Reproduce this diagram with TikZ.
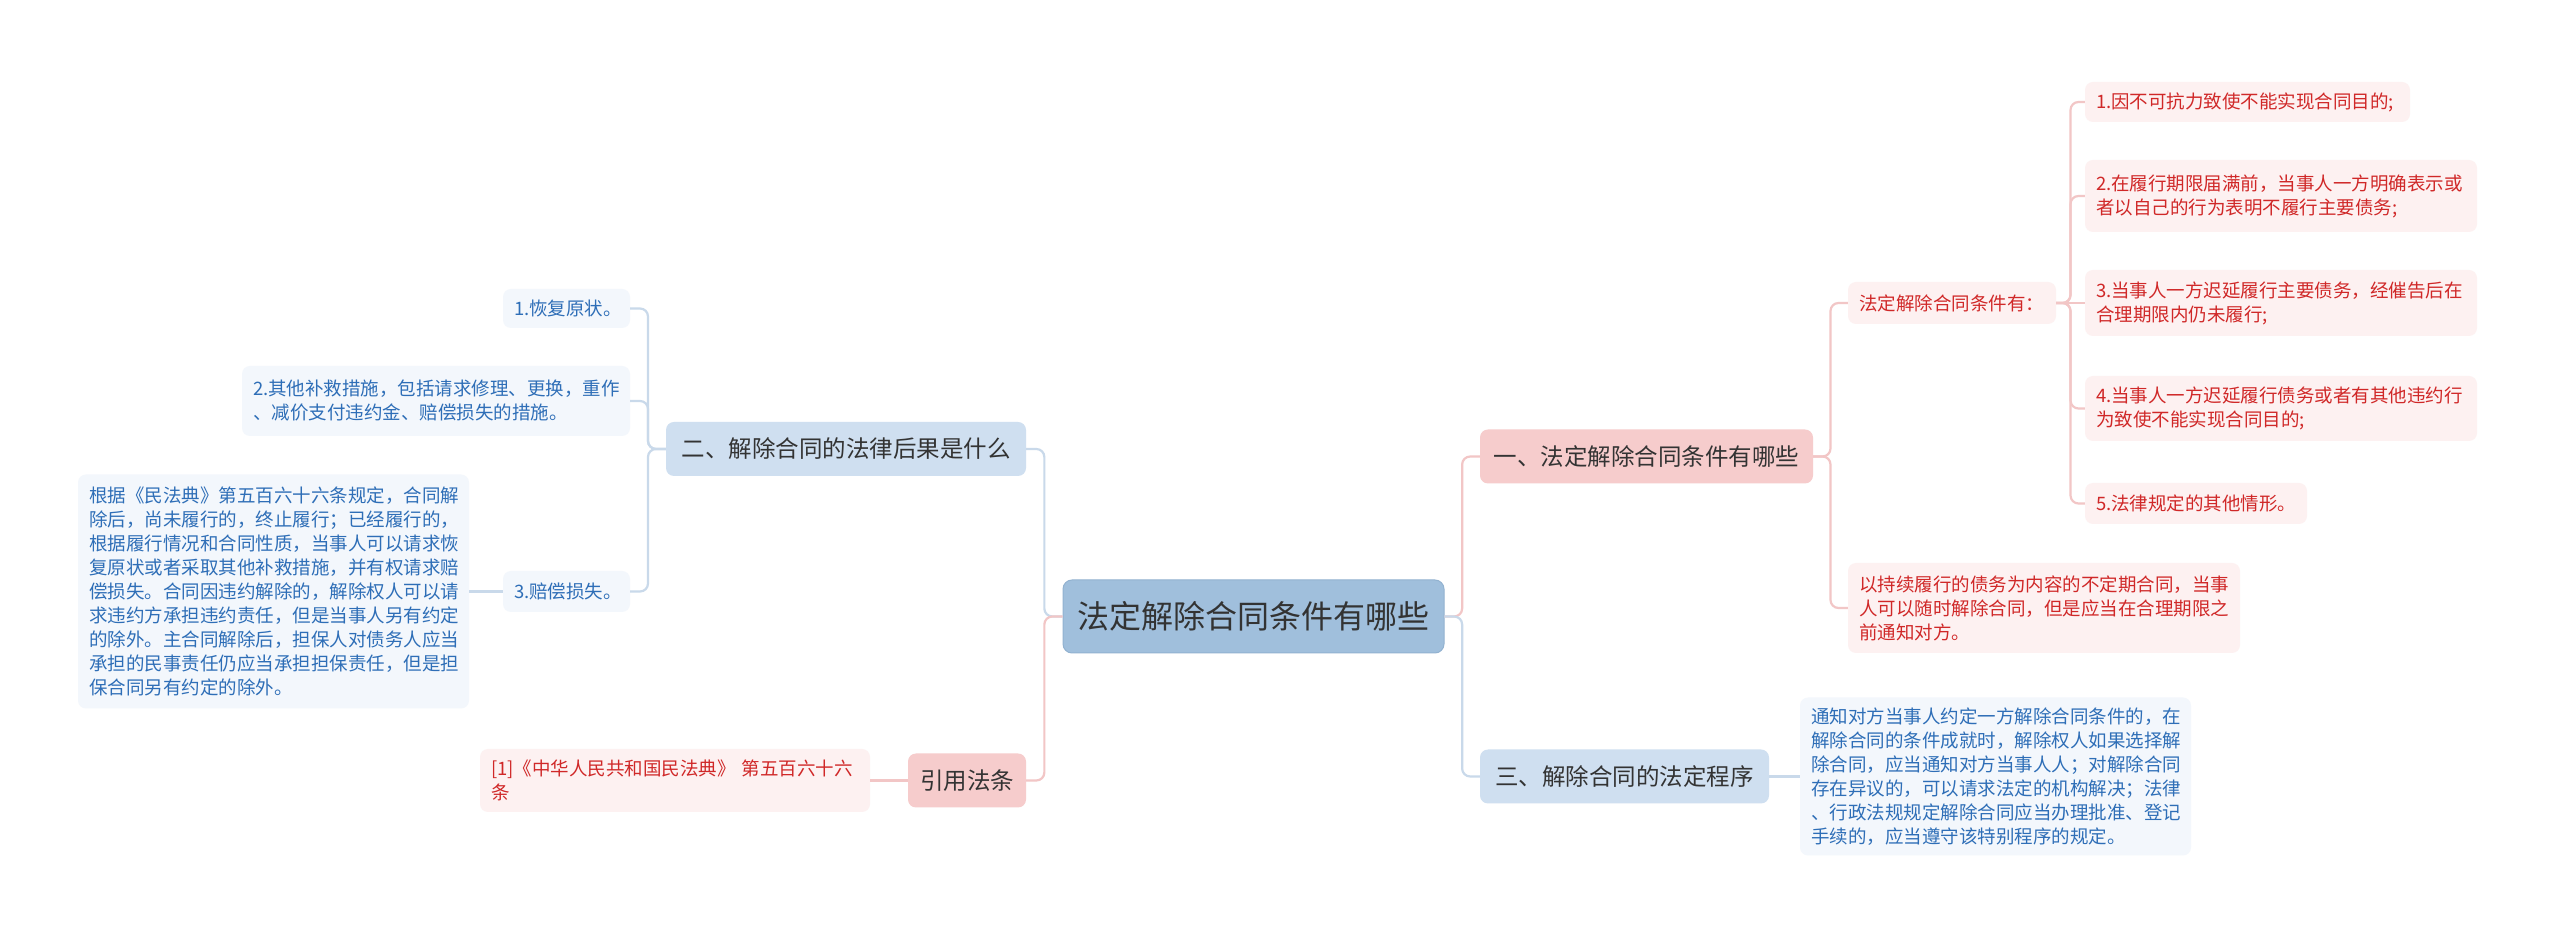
\documentclass[tikz,border=0pt]{standalone}
\usepackage{fontspec}
\usepackage{xcolor}
\usepackage{tikz}
\usetikzlibrary{
	calc,
	positioning
}
\newfontfamily\cjk{Noto Sans CJK SC}
\definecolor{RootBlue}{RGB}{160,191,220}
\definecolor{RootEdge}{RGB}{146,178,208}
\definecolor{PinkMain}{RGB}{246,204,204}
\definecolor{BlueMain}{RGB}{207,223,240}
\definecolor{PinkLeaf}{RGB}{253,241,241}
\definecolor{BlueLeaf}{RGB}{243,247,252}
\definecolor{RedText}{RGB}{208,40,40}
\definecolor{BlueText}{RGB}{46,110,183}
\definecolor{PinkLine}{RGB}{242,198,198}
\definecolor{BlueLine}{RGB}{201,217,234}
\definecolor{MainGray}{RGB}{51,51,51}

\begin{document}
\begin{tikzpicture}[x=1pt, y=1pt,
		root/.style={fill=RootBlue, draw=RootEdge, line width=1pt, text=MainGray, rounded corners=9pt, font=\cjk\fontsize{32}{38}\selectfont, minimum width=381pt, minimum height=73pt},
		topic/.style={rounded corners=8pt, text=MainGray, font=\cjk\fontsize{23.5}{28}\selectfont, minimum height=54pt},
		pinktopic/.style={topic, fill=PinkMain},
		bluetopic/.style={topic, fill=BlueMain},
		leaf/.style={rounded corners=8pt, font=\cjk\fontsize{18.5}{24}\selectfont, align=left, inner xsep=11pt, inner ysep=0pt},
		pinkleaf/.style={leaf, fill=PinkLeaf, text=RedText},
		blueleaf/.style={leaf, fill=BlueLeaf, text=BlueText},
		pinkline/.style={draw=PinkLine, line width=2.2pt, rounded corners=8pt},
		blueline/.style={draw=BlueLine, line width=2.2pt, rounded corners=8pt}]
			\path[fill=white] (0,0) rectangle (2560,937);
			\useasboundingbox (0,0) rectangle (2560,937);
			\node[root] (root) at (1253.5,320.5) {法定解除合同条件有哪些};
			\node[pinktopic, minimum width=333pt] (t1) at (1646.5,480.5) {一、法定解除合同条件有哪些};
			\node[bluetopic, minimum width=289pt] (t3) at (1624.5,160.5) {三、解除合同的法定程序};
			\node[bluetopic, minimum width=360pt] (t2) at (846,488) {二、解除合同的法律后果是什么};
			\node[pinktopic, minimum width=118pt] (law) at (967,156.5) {引用法条};
			\node[pinkleaf, text width=186pt, minimum height=42pt] (cond) at (1952,634) {法定解除合同条件有：};
			\node[pinkleaf, text width=370pt, minimum height=90pt] (open) at (2044,329) {以持续履行的债务为内容的不定期合同，当事\\人可以随时解除合同，但是应当在合理期限之\\前通知对方。};
			\node[pinkleaf, text width=303pt, minimum height=40pt] (c1) at (2247.5,835) {1.因不可抗力致使不能实现合同目的;};
			\node[pinkleaf, text width=370pt, minimum height=72pt] (c2) at (2281,741) {2.在履行期限届满前，当事人一方明确表示或\\者以自己的行为表明不履行主要债务;};
			\node[pinkleaf, text width=370pt, minimum height=66pt] (c3) at (2281,634) {3.当事人一方迟延履行主要债务，经催告后在\\合理期限内仍未履行;};
			\node[pinkleaf, text width=370pt, minimum height=65pt] (c4) at (2281,528.5) {4.当事人一方迟延履行债务或者有其他违约行\\为致使不能实现合同目的;};
			\node[pinkleaf, text width=200pt, minimum height=41pt] (c5) at (2196,433.5) {5.法律规定的其他情形。};
			\node[blueleaf, text width=369pt, minimum height=158pt] (proc) at (1995.5,160.5) {通知对方当事人约定一方解除合同条件的，在\\解除合同的条件成就时，解除权人如果选择解\\除合同，应当通知对方当事人人；对解除合同\\存在异议的，可以请求法定的机构解决；法律\\、行政法规规定解除合同应当办理批准、登记\\手续的，应当遵守该特别程序的规定。};
			\node[blueleaf, text width=105pt, minimum height=39pt] (b1) at (566.5,628.5) {1.恢复原状。};
			\node[blueleaf, text width=366pt, minimum height=70pt] (b2) at (436,536) {2.其他补救措施，包括请求修理、更换，重作\\、减价支付违约金、赔偿损失的措施。};
			\node[blueleaf, text width=105pt, minimum height=41pt] (b3) at (566.5,345.5) {3.赔偿损失。};
			\node[blueleaf, text width=369pt, minimum height=234pt] (loss) at (273.5,345.5) {根据《民法典》第五百六十六条规定，合同解\\除后，尚未履行的，终止履行；已经履行的，\\根据履行情况和合同性质，当事人可以请求恢\\复原状或者采取其他补救措施，并有权请求赔\\偿损失。合同因违约解除的，解除权人可以请\\求违约方承担违约责任，但是当事人另有约定\\的除外。主合同解除后，担保人对债务人应当\\承担的民事责任仍应当承担担保责任，但是担\\保合同另有约定的除外。};
			\node[pinkleaf, text width=368pt, minimum height=63pt] (lawtxt) at (675,156.5) {[1]《中华人民共和国民法典》 第五百六十六\\条};
			\draw[pinkline] (root.east) -- ($(root.east)!.5!(root.east -| t1.west)$) |- (t1.west);
			\draw[blueline] (root.east) -- ($(root.east)!.5!(root.east -| t3.west)$) |- (t3.west);
			\draw[blueline] (root.west) -- ($(root.west)!.5!(root.west -| t2.east)$) |- (t2.east);
			\draw[pinkline] (root.west) -- ($(root.west)!.5!(root.west -| law.east)$) |- (law.east);
			\foreach \b in {cond, open}
				\draw[pinkline] (t1.east) -- ($(t1.east)!.5!(t1.east -| \b.west)$) |- (\b.west);
			\foreach \b in {c1, c2, c4, c5}
				\draw[pinkline] (cond.east) -- ($(cond.east)!.5!(cond.east -| \b.west)$) |- (\b.west);
			\draw[pinkline] (cond.east) -- (c3.west);
			\foreach \b in {b1, b2, b3}
				\draw[blueline] (t2.west) -- ($(t2.west)!.5!(t2.west -| \b.east)$) |- (\b.east);
			\draw[blueline] (t3.east) -- (proc.west);
			\draw[blueline] (b3.west) -- (loss.east);
			\draw[pinkline] (law.west) -- (lawtxt.east);
		\end{tikzpicture}
\end{document}
